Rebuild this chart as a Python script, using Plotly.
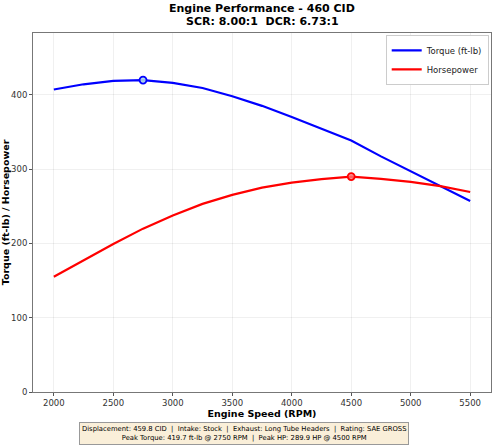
import plotly.graph_objects as go

rpm = [2000, 2250, 2500, 2750, 3000, 3250, 3500, 3750, 4000, 4250, 4500, 4750, 5000, 5250, 5500]
torque = [407, 414, 418.5, 419.7, 416, 409, 398, 385, 370, 354, 338.3, 317, 297, 277, 257]
horsepower = [155, 177.4, 199.2, 219.8, 237.6, 253.1, 265.2, 274.9, 281.8, 286.5, 289.9, 286.7, 282.7, 276.9, 269.1]
peak_tq_rpm, peak_tq = 2750, 419.7
peak_hp_rpm, peak_hp = 4500, 289.9
x_ticks = [2000, 2500, 3000, 3500, 4000, 4500, 5000, 5500]
y_ticks = [0, 100, 200, 300, 400]

FONT = "DejaVu Sans"

fig = go.Figure()
fig.add_trace(go.Scatter(x=rpm, y=torque, mode="lines", name="Torque (ft-lb)",
                         line=dict(color="#0000ff", width=2.2)))
fig.add_trace(go.Scatter(x=rpm, y=horsepower, mode="lines", name="Horsepower",
                         line=dict(color="#ff0000", width=2.2)))
fig.add_trace(go.Scatter(x=[peak_tq_rpm], y=[peak_tq], mode="markers", showlegend=False,
                         marker=dict(size=7, color="rgba(173,216,230,0.9)",
                                     line=dict(color="#0000ff", width=1.8))))
fig.add_trace(go.Scatter(x=[peak_hp_rpm], y=[peak_hp], mode="markers", showlegend=False,
                         marker=dict(size=7, color="rgba(255,120,120,0.8)",
                                     line=dict(color="#ff0000", width=1.8))))

axis_common = dict(showline=True, mirror=True, linecolor="#777", linewidth=1,
                   showgrid=True, gridcolor="rgba(0,0,0,0.06)", gridwidth=1,
                   ticks="outside", ticklen=3, tickcolor="#555", zeroline=False,
                   automargin=False,
                   tickfont=dict(family=FONT, size=8.5, color="#333"))

fig.update_layout(
    width=500, height=445,
    margin=dict(l=33, r=9, t=33, b=53),
    paper_bgcolor="white", plot_bgcolor="white",
    font=dict(family=FONT),
    xaxis=dict(range=[1825, 5675], tickvals=x_ticks,
               title=dict(text="<b>Engine Speed (RPM)</b>", standoff=1,
                          font=dict(family=FONT, size=9.5, color="black")),
               **axis_common),
    yaxis=dict(range=[0, 483], tickvals=y_ticks,
               title=dict(text="<b>Torque (ft-lb) / Horsepower</b>", standoff=6,
                          font=dict(family=FONT, size=9.5, color="black")),
               **axis_common),
    legend=dict(x=0.995, y=0.995, xanchor="right", yanchor="top",
                bgcolor="rgba(255,255,255,0.9)", bordercolor="#ccc", borderwidth=1,
                font=dict(family=FONT, size=8.5, color="#222"),
                itemwidth=30, tracegroupgap=0),
    showlegend=True,
)

fig.add_annotation(
    xref="paper", yref="paper", x=0.5, y=1 + 24 / 359, xanchor="center", yanchor="middle",
    text="<b>Engine Performance - 460 CID</b>", showarrow=False,
    font=dict(family=FONT, size=11, color="black"),
)
fig.add_annotation(
    xref="paper", yref="paper", x=0.5, y=1 + 12 / 359, xanchor="center", yanchor="middle",
    text="<b>SCR: 8.00:1  DCR: 6.73:1</b>", showarrow=False,
    font=dict(family=FONT, size=11, color="black"),
)

fig.add_annotation(
    xref="paper", yref="paper", x=0.461, y=-41 / 359, xanchor="center", yanchor="middle",
    text="Displacement: 459.8 CID  |  Intake: Stock  |  Exhaust: Long Tube Headers  |  Rating: SAE GROSS<br>"
         f"Peak Torque: {peak_tq} ft-lb @ {peak_tq_rpm} RPM  |  Peak HP: {peak_hp} HP @ {peak_hp_rpm} RPM",
    showarrow=False, align="center",
    font=dict(family=FONT, size=6.8, color="black"),
    bgcolor="#faefd9", bordercolor="#999", borderwidth=1, borderpad=2,
)

fig.write_html("out.html")
